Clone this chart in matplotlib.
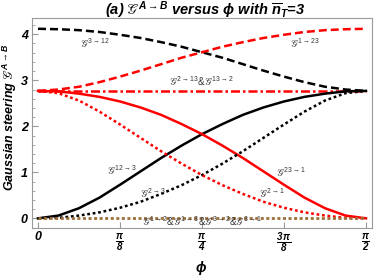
import numpy as np
import matplotlib
matplotlib.use("Agg")
from matplotlib import pyplot as plt

# phi sampled every pi/32 from 0 to pi/2
phi = np.linspace(0, np.pi / 2, 17)
phi_ends = [0, np.pi / 2]

# values
g3_12 = [4.12, 4.11, 4.09, 4.05, 3.99, 3.92, 3.83, 3.73, 3.61, 3.49, 3.35, 3.21, 3.08, 2.96, 2.86, 2.80, 2.77]
g1_23 = [2.77, 2.80, 2.86, 2.96, 3.08, 3.21, 3.35, 3.49, 3.61, 3.73, 3.83, 3.92, 3.99, 4.05, 4.09, 4.11, 4.12]
g12_3 = [0.00, 0.06, 0.22, 0.45, 0.73, 1.02, 1.31, 1.58, 1.83, 2.05, 2.25, 2.41, 2.54, 2.64, 2.71, 2.76, 2.77]
g23_1 = [2.77, 2.76, 2.71, 2.64, 2.54, 2.41, 2.25, 2.05, 1.83, 1.58, 1.31, 1.02, 0.73, 0.45, 0.22, 0.06, 0.00]
g2_3 = [0.00, 0.01, 0.06, 0.13, 0.23, 0.36, 0.53, 0.72, 0.94, 1.19, 1.46, 1.75, 2.04, 2.32, 2.56, 2.72, 2.77]
g2_1 = [2.77, 2.72, 2.56, 2.32, 2.04, 1.75, 1.46, 1.19, 0.94, 0.72, 0.53, 0.36, 0.23, 0.13, 0.06, 0.01, 0.00]
g2_13 = [2.77, 2.77]
g1_2 = [0.0, 0.0]

xtick_vals = [0, np.pi / 8, np.pi / 4, 3 * np.pi / 8, np.pi / 2]
xtick_labels = ['0', r'$\frac{\pi}{\mathbf{8}}$', r'$\frac{\pi}{\mathbf{4}}$',
                r'$\frac{\mathbf{3}\,\pi}{\mathbf{8}}$', r'$\frac{\pi}{\mathbf{2}}$']
ytick_vals = [0, 1, 2, 3, 4]

plt.rcParams['mathtext.fontset'] = 'custom'
plt.rcParams['mathtext.rm'] = 'Liberation Sans'
plt.rcParams['mathtext.it'] = 'Liberation Sans:italic:bold'
plt.rcParams['mathtext.bf'] = 'Liberation Sans:italic:bold'
plt.rcParams['mathtext.fallback'] = 'stix'
plt.rcParams['font.family'] = ['Liberation Sans', 'DejaVu Sans']


def gsym(s):
    return r'$𝒢^{\mathrm{' + s + '}}$'


fig = plt.figure(figsize=(3.74, 2.77), dpi=100)
ax = fig.add_axes([32 / 374, 49 / 277, 340 / 374, 210.5 / 277])

lw = 1.8
ax.plot(phi, g3_12, color='black', lw=lw, dashes=(3.2, 1.6))
ax.plot(phi, g1_23, color='red', lw=lw, dashes=(3.2, 1.6))
ax.plot(phi_ends, g2_13, color='red', lw=lw, dashes=(3.6, 1.2, 1.0, 1.2))
ax.plot(phi, g12_3, color='black', lw=lw)
ax.plot(phi, g23_1, color='red', lw=lw)
ax.plot(phi, g2_3, color='black', lw=lw, dashes=(1.1, 1.1))
ax.plot(phi, g2_1, color='red', lw=lw, dashes=(1.1, 1.1))
ax.plot(phi_ends, g1_2, color='#a0703a', lw=2.0, dashes=(1.1, 0.9))

lab = dict(fontsize=7, color='#333333', ha='center', va='center')
ax.text(0.273, 3.81, gsym(r'3\rightarrow 12'), **lab)
ax.text(1.279, 3.81, gsym(r'1\rightarrow 23'), **lab)
ax.text(np.pi / 4, 2.98, gsym(r'2\rightarrow 13') + '&' + gsym(r'13\rightarrow 2'), **lab)
ax.text(0.40, 1.05, gsym(r'12\rightarrow 3'), **lab)
ax.text(1.21, 1.00, gsym(r'23\rightarrow 1'), **lab)
ax.text(0.551, 0.55, gsym(r'2\rightarrow 3'), **lab)
ax.text(1.121, 0.55, gsym(r'2\rightarrow 1'), **lab)
ax.text(np.pi / 4, -0.07, '&'.join(gsym(s) for s in [r'1\rightarrow 2', r'1\rightarrow 3',
                                                     r'3\rightarrow 2', r'3\rightarrow 1']), **lab)

ax.set_xlim(-0.0287, np.pi / 2 + 0.0287)
ax.set_ylim(-0.21, 4.365)
ax.set_xticks(xtick_vals)
ax.set_xticklabels(xtick_labels)
ax.set_yticks(ytick_vals)
ax.set_yticks(np.arange(-0.2, 4.3, 0.2), minor=True)
ax.tick_params(direction='in', color='#999999', length=4, width=0.8, labelsize=9, pad=3)
ax.tick_params(axis='x', labelsize=10, pad=2)
ax.tick_params(which='minor', direction='in', color='#999999', length=2, width=0.6)
for lbl in ax.get_xticklabels() + ax.get_yticklabels():
    lbl.set_fontweight('bold')
    lbl.set_fontstyle('italic')
ax.get_xticklabels()[0].set_fontsize(9)
for sp in ax.spines.values():
    sp.set_color('#999999')
    sp.set_linewidth(0.8)

fig.text(205 / 374, 1 - 10 / 277,
         r'(a) $𝒢^{A\rightarrow B}$ versus $\phi$ with $\overline{n}_T$=3',
         ha='center', va='center', fontsize=10.5, fontweight='bold', fontstyle='italic')
fig.text(10 / 374, 1 - 117 / 277, r'Gaussian steering $𝒢^{A\rightarrow B}$', rotation=90,
         ha='center', va='center', fontsize=9, fontweight='bold', fontstyle='italic')
fig.text(201 / 374, 1 - 268 / 277, r'$\phi$', ha='center', va='center', fontsize=10)

fig.savefig('out.png', dpi=100)
